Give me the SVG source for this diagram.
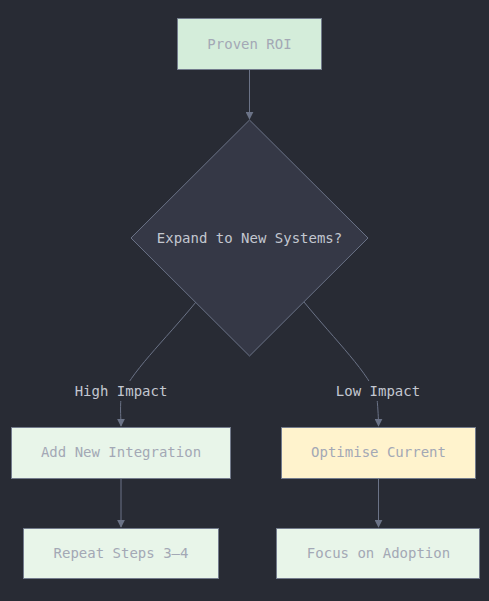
<svg xmlns="http://www.w3.org/2000/svg" width="489" height="601" viewBox="0 0 489 601">
<defs>
<style>
.box{stroke:#737b8c;stroke-width:1}
.t{font-family:"DejaVu Sans Mono","Liberation Mono",monospace;font-size:14px;text-anchor:middle;dominant-baseline:central}
.nt{fill:#a3a8b5}
.lt{fill:#c3c7d0}
.edge{fill:none;stroke:#6b7387;stroke-width:1}
</style>
<marker id="arr" viewBox="0 0 10 10" refX="9" refY="5" markerWidth="8" markerHeight="8" markerUnits="userSpaceOnUse" orient="auto">
<path d="M0,0 L10,5 L0,10 z" fill="#6b7387"/>
</marker>
</defs>
<rect width="489" height="601" fill="#282b34"/>
<g id="connectors">
<path class="edge" d="M249.5,70 L249.5,119" marker-end="url(#arr)"/>
<path class="edge" d="M196,302 C165,340 128,375 121,398 C120,410 121,418 121,426" marker-end="url(#arr)"/>
<path class="edge" d="M304,302 C335,340 371,375 377,398 C378,410 378.5,418 378.5,426" marker-end="url(#arr)"/>
<path class="edge" d="M121,478 L121,527" marker-end="url(#arr)"/>
<path class="edge" d="M378.5,478 L378.5,527" marker-end="url(#arr)"/>
</g>
<g id="label-high">
<rect x="72" y="381" width="98" height="20" fill="#282b34"/>
<text class="t lt" x="121" y="391">High Impact</text>
</g>
<g id="label-low">
<rect x="333" y="381" width="90" height="20" fill="#282b34"/>
<text class="t lt" x="378" y="391">Low Impact</text>
</g>
<g id="proven-roi">
<rect class="box" x="177.5" y="18.5" width="144" height="51" fill="#d4edda"/>
<text class="t nt" x="249.5" y="44">Proven ROI</text>
</g>
<g id="expand">
<polygon points="249.5,120 368,238 249.5,356 131,238" fill="#353846" stroke="#6b7387" stroke-width="1"/>
<text class="t lt" x="249.5" y="238">Expand to New Systems?</text>
</g>
<g id="add-new">
<rect class="box" x="11.5" y="427.5" width="219" height="51" fill="#e8f5e9"/>
<text class="t nt" x="121" y="452">Add New Integration</text>
</g>
<g id="optimise">
<rect class="box" x="281.5" y="427.5" width="194" height="51" fill="#fff3cd"/>
<text class="t nt" x="378.5" y="452">Optimise Current</text>
</g>
<g id="repeat">
<rect class="box" x="23.5" y="528.5" width="195" height="50" fill="#e8f5e9"/>
<text class="t nt" x="121" y="553">Repeat Steps 3–4</text>
</g>
<g id="focus">
<rect class="box" x="276.5" y="528.5" width="203" height="50" fill="#e8f5e9"/>
<text class="t nt" x="378.5" y="553">Focus on Adoption</text>
</g>
</svg>
